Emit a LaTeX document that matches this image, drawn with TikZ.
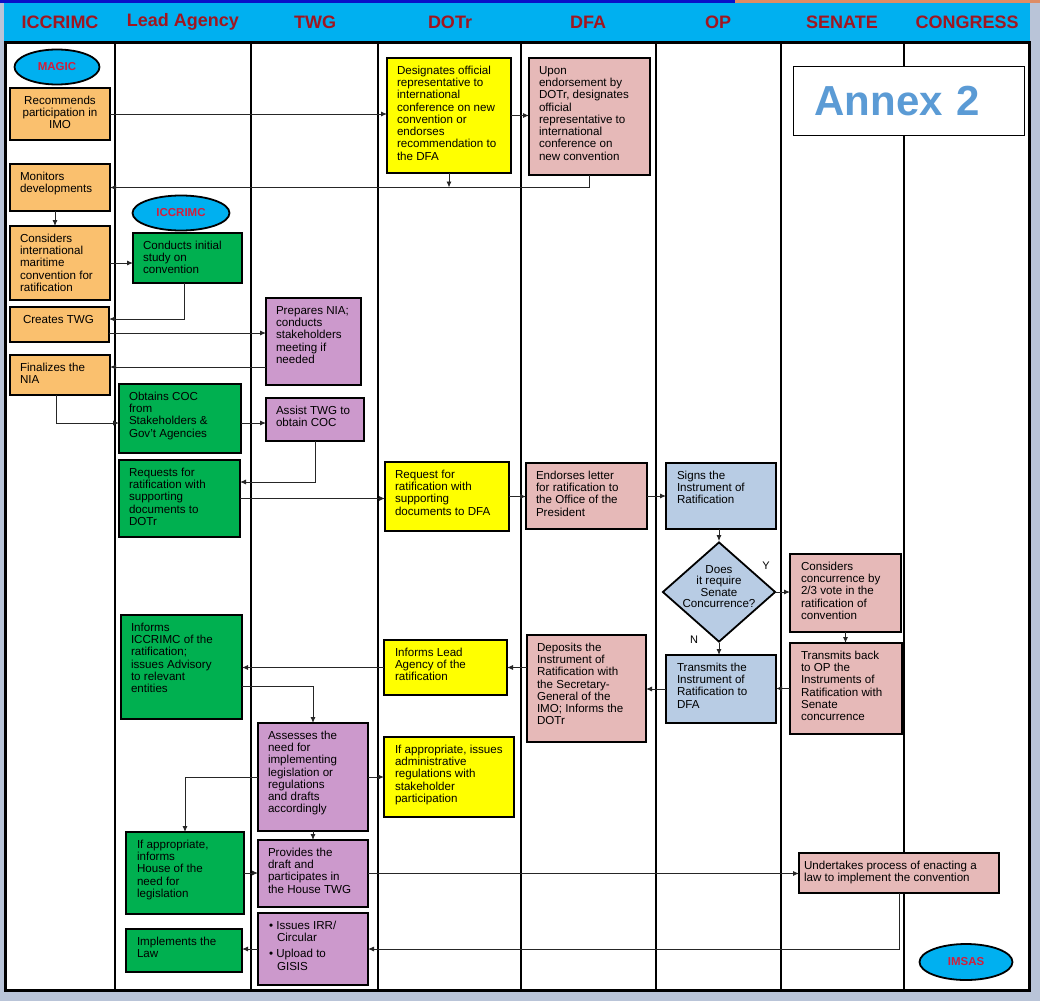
\documentclass[tikz,border=0pt]{standalone}
\usepackage{fontspec}
\setmainfont{Liberation Sans}
\usetikzlibrary{shapes.geometric}
\usetikzlibrary{arrows.meta}
\definecolor{cBack}{RGB}{185,196,216}
\definecolor{cCyan}{RGB}{0,176,240}
\definecolor{cHead}{RGB}{160,22,32}
\definecolor{cOval}{RGB}{210,30,60}
\definecolor{cOrange}{RGB}{250,192,110}
\definecolor{cGreen}{RGB}{0,176,80}
\definecolor{cPurple}{RGB}{204,153,204}
\definecolor{cYellow}{RGB}{255,255,0}
\definecolor{cPink}{RGB}{230,185,184}
\definecolor{cBlue}{RGB}{184,204,228}
\definecolor{cAnnex}{RGB}{91,155,213}
\definecolor{cStrip}{RGB}{10,16,200}
\definecolor{cStripB}{RGB}{222,140,100}
\newcommand{\celltext}[4][10]{\parbox[b][#3pt][t]{#2pt}{\leftskip=#1pt\rightskip=0pt plus 1fil\rule{0pt}{16.5pt}#4}}

\begin{document}
\begin{tikzpicture}[x=1pt,y=-1pt,
  box/.style={draw,line width=1.8pt,inner sep=0pt,outer sep=0pt,anchor=north west,font=\fontsize{11.6}{12.24}\selectfont},
  obox/.style={box,fill=cOrange},
  gbox/.style={box,fill=cGreen},
  pbox/.style={box,fill=cPurple},
  ybox/.style={box,fill=cYellow},
  rbox/.style={box,fill=cPink},
  bbox/.style={box,fill=cBlue},
  lanehead/.style={text=cHead,font=\fontsize{18}{20}\selectfont\bfseries},
  oval/.style={draw,ellipse,line width=1.8pt,fill=cCyan,text=cOval,inner sep=0pt,font=\fontsize{11.5}{12}\selectfont\bfseries},
  flow/.style={-{Latex[length=6pt,width=5pt]},line width=0.9pt,draw=black!85},
  yn/.style={font=\fontsize{11}{12}\selectfont}]
\useasboundingbox (0,0) rectangle (1040,1001);
\fill[cBack] (0,0) rectangle (1040,1001);
\fill[cStrip] (0,0) rectangle (735,3);
\fill[cStripB] (735,0) rectangle (1040,3);
\fill[cCyan] (4,3) rectangle (1030,42);
\fill[white] (5,42) rectangle (1029,990);
\foreach \x in {115,251,378,521,656,781,904}
  \draw[line width=2.5pt] (\x,42) -- (\x,990);
\draw[line width=3pt] (5,42) rectangle (1029,990);

\node[lanehead] (hA) at (60,22) {ICCRIMC};
\node[lanehead] (hB) at (183,22) {Lead Agency};
\node[lanehead] (hC) at (315,22) {TWG};
\node[lanehead] (hD) at (450,22) {DOTr};
\node[lanehead] (hE) at (588,22) {DFA};
\node[lanehead] (hF) at (718,22) {OP};
\node[lanehead] (hG) at (842,22) {SENATE};
\node[lanehead] (hH) at (967,22) {CONGRESS};

\node[draw,line width=1pt,fill=white,anchor=north west,inner xsep=21pt,inner ysep=0pt,text width=189pt,minimum height=69pt,text=cAnnex,font=\fontsize{42}{46}\selectfont\bfseries] (annex) at (793,66) {Annex 2};

\node[oval,minimum width=85pt,minimum height=35pt] (magic) at (57,67) {MAGIC};
\node[oval,minimum width=97pt,minimum height=35pt] (iccr) at (181,213) {ICCRIMC};
\node[oval,minimum width=93pt,minimum height=36pt] (imsas) at (966,962) {IMSAS};

\node[obox] (rec) at (10,88) {\celltext{100}{52}{\centering Recommends\\participation in\\IMO}};
\node[obox] (mon) at (10,164) {\celltext{100}{47}{Monitors\\developments}};
\node[obox] (cons) at (10,226) {\celltext{100}{74}{Considers\\international\\maritime\\convention for\\ratification}};
\node[obox] (ctwg) at (10,307) {\celltext[13]{99}{35}{Creates TWG}};
\node[obox] (fnia) at (10,355) {\celltext{100}{40}{Finalizes the\\NIA}};

\node[gbox] (study) at (133,233) {\celltext{109}{50}{Conducts initial\\study on\\convention}};
\node[gbox] (coc) at (119,384) {\celltext{122}{69}{Obtains COC\\from\\Stakeholders \&\\Gov't Agencies}};
\node[gbox] (reqg) at (119,460) {\celltext{121}{77}{Requests for\\ratification with\\supporting\\documents to\\DOTr}};
\node[gbox] (infic) at (121,615) {\celltext{121}{104}{Informs\\ICCRIMC of the\\ratification;\\issues Advisory\\to relevant\\entities}};
\node[gbox] (house) at (126,832) {\celltext[11]{118}{82}{If appropriate,\\informs\\House of the\\need for\\legislation}};
\node[gbox] (impl) at (126,929) {\celltext[11]{116}{43}{Implements the\\Law}};

\node[pbox] (pnia) at (266,298) {\celltext{95}{87}{Prepares NIA;\\conducts\\stakeholders\\meeting if\\needed}};
\node[pbox] (assist) at (266,398) {\celltext{98}{43}{Assist TWG to\\obtain COC}};
\node[pbox] (assess) at (258,723) {\celltext{110}{108}{Assesses the\\need for\\implementing\\legislation or\\regulations\\and drafts\\accordingly}};
\node[pbox] (prov) at (258,840) {\celltext{110}{67}{Provides the\\draft and\\participates in\\the House TWG}};
\node[pbox] (irr) at (258,913) {\celltext[11]{110}{72}{\textbullet\ Issues IRR/\\\hspace*{8pt}Circular\\[4pt]\textbullet\ Upload to\\\hspace*{8pt}GISIS}};

\node[ybox] (desig) at (387,58) {\celltext{124}{115}{Designates official\\representative to\\international\\conference on new\\convention or\\endorses\\recommendation to\\the DFA}};
\node[ybox] (reqd) at (385,462) {\celltext{124}{69}{Request for\\ratification with\\supporting\\documents to DFA}};
\node[ybox] (infla) at (384,640) {\celltext[11]{123}{55}{Informs Lead\\Agency of the\\ratification}};
\node[ybox] (admin) at (384,737) {\celltext[11]{130}{80}{If appropriate, issues\\administrative\\regulations with\\stakeholder\\participation}};

\node[rbox] (upon) at (529,58) {\celltext{121}{117}{Upon\\endorsement by\\DOTr, designates\\official\\representative to\\international\\conference on\\new convention}};
\node[rbox] (endo) at (526,463) {\celltext{121}{66}{Endorses letter\\for ratification to\\the Office of the\\President}};
\node[rbox] (depo) at (527,635) {\celltext{119}{107}{Deposits the\\Instrument of\\Ratification with\\the Secretary-\\General of the\\IMO; Informs the\\DOTr}};
\node[rbox] (conc) at (790,554) {\celltext[11]{111}{78}{Considers\\concurrence by\\2/3 vote in the\\ratification of\\convention}};
\node[rbox] (back) at (790,643) {\celltext[11]{112}{91}{Transmits back\\to OP the\\Instruments of\\Ratification with\\Senate\\concurrence}};
\node[rbox] (law) at (799,853) {\celltext[5]{200}{40}{Undertakes process of enacting a\\law to implement the convention}};

\node[bbox] (signs) at (666,463) {\celltext[11]{110}{66}{Signs the\\Instrument of\\Ratification}};
\node[bbox] (trans) at (666,655) {\celltext[11]{110}{68}{Transmits the\\Instrument of\\Ratification to\\DFA}};
\node[diamond,draw,line width=1.8pt,fill=cBlue,inner sep=0pt,minimum width=113pt,minimum height=100pt,font=\fontsize{11.6}{11.6}\selectfont] (dia) at (719,592) {\raisebox{5pt}{\makebox[0pt]{\smash{\parbox[c]{90pt}{\centering Does\\it require\\Senate\\Concurrence?}}}}};
\node[yn] (y) at (766,566) {Y};
\node[yn] (n) at (694,640) {N};

\draw[flow] (rec.east) -- (rec.east -| desig.west);
\draw[flow] (desig.east) -- (desig.east -| upon.west);
\draw[flow] (upon.south) |- (mon.east);
\draw[flow] (desig.south) -- (desig.south |- mon.east);
\draw[flow] ([xshift=-5pt]mon.south) -- ([xshift=-5pt]mon.south |- cons.north);
\draw[flow] (cons.east) -- (cons.east -| study.west);
\draw[flow] ([xshift=-3pt]study.south) |- ([yshift=5.5pt]ctwg.east);
\draw[flow] ([yshift=-8.5pt]ctwg.east) -- ([yshift=-8.5pt]ctwg.east -| pnia.west);
\draw[flow] ([yshift=8pt]fnia.east -| pnia.west) -- ([yshift=8pt]fnia.east);
\draw[flow] ([xshift=-4pt]fnia.south) |- ([yshift=-4.5pt]coc.west);
\draw[flow] ([yshift=-4.5pt]coc.east) -- ([yshift=-4.5pt]coc.east -| assist.west);
\draw[flow] (assist.south) |- ([yshift=16.5pt]reqg.east);
\draw[flow] (reqg.east) -- (reqg.east -| reqd.west);
\draw[flow] (reqd.east) -- (reqd.east -| endo.west);
\draw[flow] (endo.east) -- (endo.east -| signs.west);
\draw[flow] (dia.north |- signs.south) -- (dia.north);
\draw[flow] (dia.east) -- (dia.east -| conc.west);
\draw[flow] (conc.south) -- (conc.south |- back.north);
\draw[flow] (back.west) -- (back.west -| trans.east);
\draw[flow] (dia.south) -- (dia.south |- trans.north);
\draw[flow] (trans.west) -- (trans.west -| depo.east);
\draw[flow] (infla.east -| depo.west) -- (infla.east);
\draw[flow] (infla.west) -- (infla.west -| infic.east);
\draw[flow] ([yshift=-19pt]infic.east) -| (assess.north);
\draw[flow] (assess.west) -| (house.north);
\draw[flow] (assess.east) -- (assess.east -| admin.west);
\draw[flow] (assess.south) -- (prov.north);
\draw[flow] (house.east) -- (house.east -| prov.west);
\draw[flow] (prov.east) -- (prov.east -| law.west);
\draw[flow] (law.south) |- (irr.east);
\draw[flow] (irr.west) -- (irr.west -| impl.east);
\end{tikzpicture}
\end{document}
